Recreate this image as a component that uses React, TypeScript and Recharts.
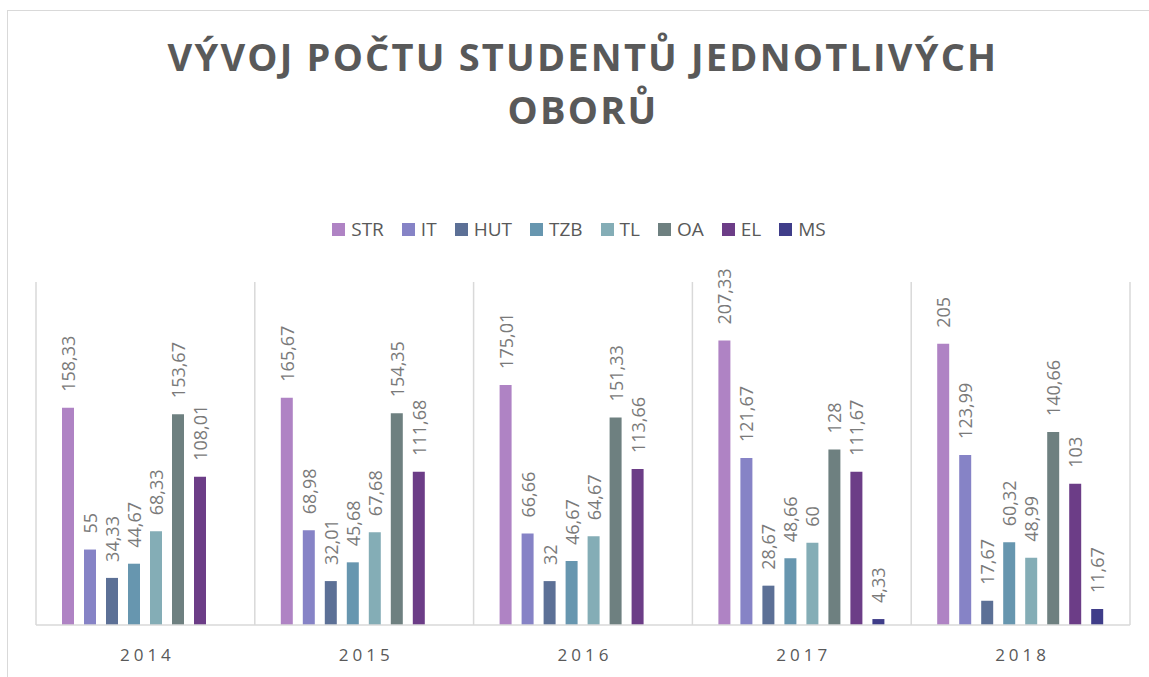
import React from 'react';
import { BarChart, Bar, XAxis, YAxis, CartesianGrid, Legend, LabelList } from 'recharts';

const years = ['2014', '2015', '2016', '2017', '2018'];

const STR = [158.33, 165.67, 175.01, 207.33, 205];
const IT = [55, 68.98, 66.66, 121.67, 123.99];
const HUT = [34.33, 32.01, 32, 28.67, 17.67];
const TZB = [44.67, 45.68, 46.67, 48.66, 60.32];
const TL = [68.33, 67.68, 64.67, 60, 48.99];
const OA = [153.67, 154.35, 151.33, 128, 140.66];
const EL = [108.01, 111.68, 113.66, 111.67, 103];
const MS = [null, null, null, 4.33, 11.67];

const seriesNames = ['STR', 'IT', 'HUT', 'TZB', 'TL', 'OA', 'EL', 'MS'];
const seriesValues = [STR, IT, HUT, TZB, TL, OA, EL, MS];
const colors = ['#AF83C4', '#8683C6', '#5C7096', '#6796AF', '#84ADB6', '#6E8080', '#6C3D87', '#3F3D89'];

const data = years.map((year, i) => {
  const row: any = { year };
  seriesNames.forEach((name, s) => {
    row[name] = seriesValues[s][i];
  });
  return row;
});

const FONT = '"Open Sans", "Noto Sans", sans-serif';

const formatValue = (v: number) => String(v).replace('.', ',');

// vertical lines between the year groups (category boundaries, not centers)
const boundaryLines = ({ offset }: any) => {
  const step = offset.width / years.length;
  return Array.from({ length: years.length + 1 }, (_, i) => offset.left + i * step);
};

const BarLabel = (props: any) => {
  const { x, y, width, value } = props;
  if (value === null || value === undefined) return null;
  const cx = x + width / 2;
  const ty = y - 16;
  return (
    <text
      x={cx}
      y={ty}
      transform={`rotate(-90 ${cx} ${ty})`}
      dominantBaseline="central"
      textAnchor="start"
      fontFamily={FONT}
      fontSize={18}
      fill="#7a7a7a"
    >
      {formatValue(value)}
    </text>
  );
};

const YearTick = (props: any) => {
  const { x, y, payload } = props;
  return (
    <text
      x={x + 2}
      y={y + 28}
      textAnchor="middle"
      fontFamily={FONT}
      fontSize={17}
      letterSpacing={4}
      fill="#595959"
    >
      {payload.value}
    </text>
  );
};

const LegendContent = () => (
  <div
    style={{
      display: 'flex',
      justifyContent: 'center',
      paddingLeft: 9,
      fontFamily: FONT,
      fontSize: 19,
      color: '#595959',
    }}
  >
    {seriesNames.map((name, i) => (
      <div
        key={name}
        style={{ display: 'flex', alignItems: 'center', marginRight: i < seriesNames.length - 1 ? 18 : 0 }}
      >
        <span style={{ width: 13, height: 13, background: colors[i], display: 'inline-block', marginRight: 6 }} />
        <span>{name}</span>
      </div>
    ))}
  </div>
);

export default function App() {
  return (
    <div style={{ position: 'absolute', left: 0, top: 0, width: 1149, height: 677, background: '#fff', overflow: 'hidden' }}>
      <div
        style={{
          position: 'absolute',
          left: 7,
          top: 10,
          width: 1160,
          height: 700,
          border: '1px solid #d9d9d9',
        }}
      />
      <div
        style={{
          position: 'absolute',
          left: 0,
          top: 30,
          width: 1166,
          textAlign: 'center',
          fontFamily: FONT,
          fontWeight: 700,
          fontSize: 38,
          lineHeight: '53px',
          letterSpacing: 2.2,
          color: '#595959',
        }}
      >
        VÝVOJ POČTU STUDENTŮ JEDNOTLIVÝCH
        <br />
        OBORŮ
      </div>
      <div style={{ position: 'absolute', left: 0, top: 0 }}>
        <BarChart
          width={1149}
          height={677}
          data={data}
          margin={{ top: 282, right: 19, bottom: 22, left: 36 }}
          barSize={12}
          barGap={10}
        >
          <CartesianGrid
            horizontal={false}
            stroke="#d9d9d9"
            strokeWidth={1.5}
            verticalCoordinatesGenerator={boundaryLines}
          />
          <XAxis
            dataKey="year"
            height={30}
            axisLine={{ stroke: '#d9d9d9', strokeWidth: 1.5 }}
            tickLine={false}
            tick={<YearTick />}
            interval={0}
          />
          <YAxis hide domain={[0, 250]} />
          <Legend
            verticalAlign="middle"
            align="center"
            content={<LegendContent />}
            wrapperStyle={{ top: 216, left: 0, width: 1149 }}
          />
          {seriesNames.map((name, i) => (
            <Bar key={name} dataKey={name} fill={colors[i]} isAnimationActive={false}>
              <LabelList dataKey={name} content={<BarLabel />} />
            </Bar>
          ))}
        </BarChart>
      </div>
    </div>
  );
}
